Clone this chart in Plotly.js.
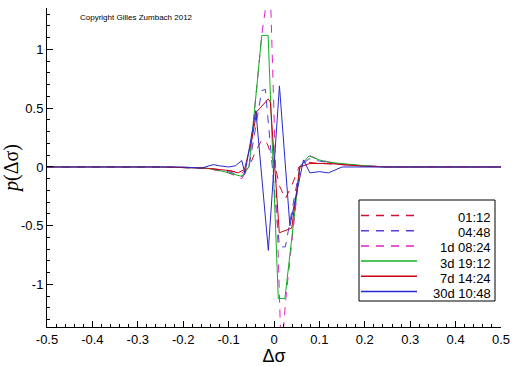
<!DOCTYPE html>
<html><head><meta charset="utf-8">
<script src="https://cdn.plot.ly/plotly-3.0.1.min.js"></script>
<style>html,body{margin:0;padding:0;background:#fff}#chart{width:512px;height:366px}</style>
</head><body><div id="chart"></div>
<script>
// ---- data ----
const seriesNames = ["01:12", "04:48", "1d 08:24", "3d 19:12", "7d 14:24", "30d 10:48"];

const x_0112 = [-0.5,-0.25,-0.15,-0.1,-0.07,-0.055,-0.042,-0.027,-0.015,0.003,0.012,0.025,0.04,0.055,0.075,0.1,0.15,0.2,0.25,0.5];
const y_0112 = [0,0,-0.01,-0.03,-0.05,0.0,0.12,0.23,0.2,0,-0.16,-0.27,-0.15,0,0.04,0.03,0.02,0.01,0,0];

const x_0448 = [-0.5,-0.25,-0.15,-0.1,-0.07,-0.055,-0.027,-0.019,0.012,0.025,0.057,0.077,0.1,0.15,0.2,0.25,0.5];
const y_0448 = [0,0,-0.01,-0.04,-0.08,0,0.65,0.66,-0.68,-0.68,0,0.07,0.05,0.02,0.01,0,0];

const x_1d0824 = [-0.5,-0.25,-0.15,-0.1,-0.071,-0.055,-0.027,-0.009,0.016,0.026,0.057,0.077,0.1,0.15,0.2,0.25,0.5];
const y_1d0824 = [0,0,-0.01,-0.05,-0.1,0,1.12,1.62,-1.62,-1.12,0,0.1,0.06,0.02,0.01,0,0];

const x_3d1912 = [-0.5,-0.25,-0.15,-0.12,-0.1,-0.071,-0.055,-0.027,-0.013,0.0095,0.024,0.057,0.077,0.1,0.12,0.15,0.2,0.25,0.5];
const y_3d1912 = [0,0,-0.01,-0.03,-0.05,-0.08,0,1.12,1.12,-1.12,-1.12,0,0.094,0.06,0.04,0.03,0.01,0,0];

const x_7d1424 = [-0.5,-0.25,-0.15,-0.1,-0.079,-0.065,-0.049,-0.038,-0.0125,-0.008,0.0117,0.039,0.057,0.079,0.12,0.15,0.2,0.25,0.5];
const y_7d1424 = [0,0,-0.01,-0.03,-0.05,-0.02,0.23,0.47,0.58,0.55,-0.56,-0.52,0,0.03,0.03,0.02,0.005,0,0];

const x_30d1048 = [-0.5,-0.2,-0.16,-0.134,-0.12,-0.1,-0.085,-0.071,-0.064,-0.04,-0.0125,0.012,0.035,0.065,0.079,0.1,0.12,0.15,0.2,0.5];
const y_30d1048 = [0,0,-0.01,0.02,0.01,0,0.01,0.055,-0.055,0.48,-0.71,0.69,-0.5,0.06,-0.05,-0.04,-0.05,0,0,0];

const xTickVals = [-0.5,-0.4,-0.3,-0.2,-0.1,0,0.1,0.2,0.3,0.4,0.5];
const xTickText = ["-0.5","-0.4","-0.3","-0.2","-0.1","0","0.1","0.2","0.3","0.4","0.5"];
const yTickVals = [-1,-0.5,0,0.5,1];
const yTickText = ["-1","-0.5","0","0.5","1"];

// ---- styles ----
const xs = [x_0112, x_0448, x_1d0824, x_3d1912, x_7d1424, x_30d1048];
const ys = [y_0112, y_0448, y_1d0824, y_3d1912, y_7d1424, y_30d1048];
const colors = ["#d01030", "#5040d8", "#e020c8", "#10b020", "#c80010", "#2828d0"];
const dashes = ["8px,7px", "8px,7px", "8px,7px", "solid", "solid", "solid"];

const traces = seriesNames.map((n, i) => ({
  type: "scatter", mode: "lines", name: n, x: xs[i], y: ys[i],
  line: {color: colors[i], width: 1, dash: dashes[i]},
  showlegend: false, hoverinfo: "skip"
}));

// custom compact legend (box, samples, right-aligned labels)
const L = 47, T = 8, W = 454, H = 319;
const px = v => (v - L) / W;
const py = v => (T + H - v) / H;
const shapes = [{type: "rect", xref: "paper", yref: "paper",
  x0: px(359), x1: px(495), y0: py(301), y1: py(200),
  line: {color: "#000", width: 1}, fillcolor: "#fff", layer: "above"}];
const annotations = [];
seriesNames.forEach((n, i) => {
  const yy = 215.5 + i * 15.2;
  shapes.push({type: "line", xref: "paper", yref: "paper",
    x0: px(361), x1: px(417), y0: py(yy), y1: py(yy),
    line: {color: colors[i], width: 1.5, dash: dashes[i]}, layer: "above"});
  annotations.push({xref: "paper", yref: "paper", x: px(493), y: py(yy + 2),
    xanchor: "right", yanchor: "middle", showarrow: false, text: n,
    font: {family: "Liberation Sans, Arial, sans-serif", size: 13, color: "#000"}});
});
annotations.push({xref: "paper", yref: "paper", x: px(78), y: py(17),
  xanchor: "left", yanchor: "middle", showarrow: false,
  text: "Copyright Gilles Zumbach 2012",
  font: {family: "Liberation Sans, Arial, sans-serif", size: 8, color: "#000"}});

const axisFont = {family: "Liberation Sans, Arial, sans-serif", size: 13, color: "#000"};
const layout = {
  width: 512, height: 366,
  margin: {l: 47, r: 11, t: 8, b: 39},
  paper_bgcolor: "#fff", plot_bgcolor: "#fff",
  showlegend: false,
  xaxis: {range: [-0.5, 0.5], tickvals: xTickVals, ticktext: xTickText,
    ticks: "inside", ticklen: 6, tickcolor: "#000", tickwidth: 1,
    minor: {dtick: 0.02, tick0: 0, ticks: "inside", ticklen: 3, tickcolor: "#000", showgrid: false},
    showline: true, linecolor: "#000", linewidth: 1, mirror: false,
    showgrid: false, zeroline: false, tickfont: axisFont,
    title: {text: "Δσ", font: {family: "Liberation Sans, Arial, sans-serif", size: 18, color: "#000"}, standoff: 7}},
  yaxis: {range: [-1.362, 1.353], tickvals: yTickVals, ticktext: yTickText,
    ticks: "inside", ticklen: 6, tickcolor: "#000", tickwidth: 1,
    minor: {dtick: 0.1, tick0: 0, ticks: "inside", ticklen: 3, tickcolor: "#000", showgrid: false},
    showline: true, linecolor: "#000", linewidth: 1, mirror: false,
    showgrid: false, zeroline: false, tickfont: axisFont,
    title: {text: "<i>p</i>(Δσ)", font: {family: "Liberation Serif, Times New Roman, serif", size: 20, color: "#000"}, standoff: 4}},
  shapes: shapes,
  annotations: annotations
};
Plotly.newPlot("chart", traces, layout, {staticPlot: true, displayModeBar: false});
</script>
</body></html>
